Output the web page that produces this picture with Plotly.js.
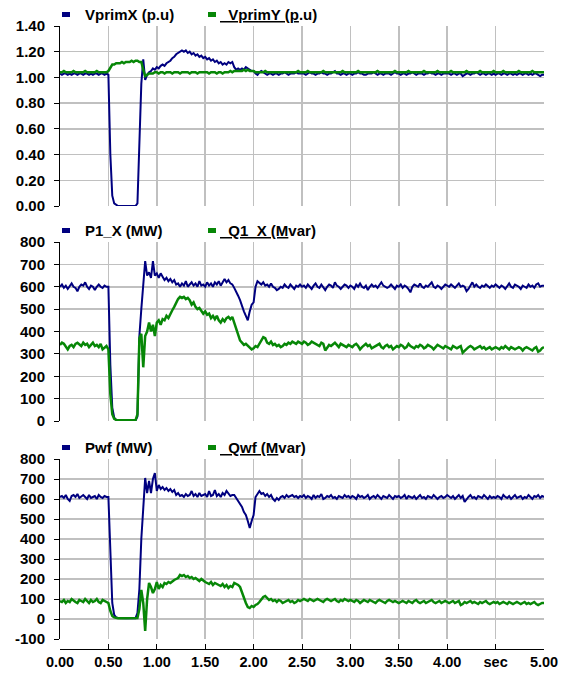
<!DOCTYPE html>
<html><head><meta charset="utf-8">
<script src="https://cdn.plot.ly/plotly-3.0.1.min.js"></script>
<style>html,body{margin:0;padding:0;background:#fff}#chart{width:565px;height:673px}</style>
</head><body><div id="chart"></div>
<script>
// sampling grid (seconds)
const T0 = 0, DT = 0.02;

// Panel 1: primary voltages (p.u)
const vprimX = [
1.03,1.02,1.03,1.03,1.02,1.03,1.02,1.03,1.03,1.02,1.03,1.03,1.02,1.03,1.03,1.02,1.03,1.02,1.03,1.03,1.02,1.03,1.03,1.02,1.03,
1.02,0.40,0.08,0.02,0.01,0.00,0.00,0.00,0.00,0.00,0.00,0.00,0.00,0.00,0.00,0.02,0.50,0.95,1.14,0.98,1.02,1.04,1.05,1.07,1.06,
1.08,1.07,1.09,1.10,1.09,1.11,1.12,1.13,1.15,1.16,1.18,1.19,1.20,1.21,1.20,1.21,1.19,1.20,1.18,1.19,1.17,1.18,1.16,1.17,1.15,
1.16,1.14,1.15,1.13,1.14,1.12,1.13,1.11,1.12,1.10,1.11,1.10,1.12,1.11,1.12,1.08,1.06,1.07,1.06,1.07,1.06,1.08,1.07,1.06,1.05,
1.05,1.03,1.02,1.04,1.05,1.04,1.03,1.02,1.03,1.03,1.02,1.03,1.03,1.02,1.03,1.03,1.04,1.03,1.02,1.03,1.03,1.03,1.04,1.03,1.03,
1.03,1.03,1.02,1.03,1.04,1.03,1.03,1.02,1.03,1.03,1.04,1.03,1.03,1.02,1.03,1.03,1.04,1.05,1.03,1.03,1.02,1.03,1.03,1.02,1.03,
1.03,1.02,1.03,1.03,1.04,1.03,1.03,1.02,1.02,1.03,1.03,1.03,1.04,1.03,1.02,1.03,1.03,1.02,1.03,1.03,1.03,1.02,1.03,1.04,1.03,
1.03,1.02,1.03,1.03,1.02,1.03,1.03,1.04,1.03,1.02,1.03,1.03,1.03,1.02,1.03,1.03,1.04,1.03,1.03,1.02,1.03,1.03,1.02,1.03,1.03,
1.03,1.03,1.02,1.03,1.03,1.02,1.03,1.03,1.01,1.02,1.03,1.03,1.02,1.03,1.03,1.04,1.03,1.02,1.03,1.03,1.02,1.03,1.03,1.02,1.03,
1.02,1.03,1.03,1.02,1.03,1.03,1.02,1.03,1.03,1.02,1.03,1.02,1.03,1.03,1.02,1.03,1.03,1.02,1.03,1.02,1.03,1.03,1.02,1.01,1.02,
1.02];
const vprimY = [
1.04,1.04,1.05,1.04,1.04,1.04,1.04,1.05,1.04,1.04,1.04,1.04,1.04,1.05,1.04,1.04,1.04,1.04,1.04,1.05,1.04,1.04,1.04,1.04,1.04,
1.05,1.08,1.10,1.10,1.11,1.11,1.11,1.12,1.11,1.12,1.12,1.12,1.13,1.12,1.13,1.13,1.12,1.12,1.06,1.01,1.02,1.03,1.03,1.03,1.04,
1.04,1.03,1.04,1.04,1.03,1.04,1.04,1.04,1.03,1.04,1.04,1.04,1.03,1.04,1.04,1.04,1.04,1.03,1.04,1.04,1.04,1.03,1.04,1.04,1.04,
1.04,1.04,1.03,1.04,1.04,1.04,1.03,1.04,1.04,1.03,1.04,1.04,1.04,1.05,1.04,1.05,1.05,1.05,1.05,1.05,1.06,1.05,1.06,1.05,1.05,
1.05,1.04,1.04,1.04,1.04,1.04,1.05,1.04,1.04,1.04,1.04,1.04,1.04,1.04,1.04,1.04,1.04,1.04,1.04,1.04,1.04,1.04,1.04,1.05,1.04,
1.04,1.04,1.04,1.05,1.04,1.04,1.04,1.04,1.04,1.04,1.04,1.05,1.04,1.04,1.04,1.04,1.04,1.04,1.04,1.04,1.04,1.05,1.04,1.04,1.04,
1.04,1.04,1.04,1.04,1.05,1.04,1.04,1.04,1.04,1.04,1.04,1.04,1.04,1.04,1.05,1.04,1.04,1.04,1.04,1.04,1.04,1.04,1.04,1.05,1.04,
1.04,1.04,1.04,1.04,1.04,1.05,1.04,1.04,1.04,1.04,1.04,1.04,1.04,1.05,1.04,1.04,1.04,1.04,1.04,1.04,1.05,1.04,1.04,1.04,1.04,
1.04,1.04,1.05,1.04,1.04,1.04,1.04,1.04,1.04,1.04,1.05,1.04,1.04,1.04,1.04,1.04,1.04,1.05,1.04,1.04,1.04,1.04,1.04,1.04,1.05,
1.04,1.04,1.04,1.04,1.05,1.04,1.04,1.04,1.04,1.04,1.04,1.04,1.05,1.04,1.04,1.04,1.04,1.04,1.04,1.05,1.04,1.04,1.04,1.04,1.04,
1.04];

// Panel 2: P1_X (MW), Q1_X (Mvar)
const p1X = [
600,610,595,605,590,600,615,600,595,580,600,610,605,620,600,590,605,600,585,600,610,600,595,605,600,
600,250,60,15,5,3,2,2,2,2,2,2,2,2,2,20,380,500,600,715,650,665,640,715,650,
660,640,660,645,630,640,625,635,620,630,610,615,600,615,605,625,600,610,620,605,615,600,625,605,610,
600,620,605,615,600,620,610,625,605,620,635,620,630,615,610,595,580,560,540,510,490,470,450,490,520,
530,600,625,615,610,620,605,610,600,615,600,595,585,590,600,595,610,600,595,610,600,590,605,600,610,
600,605,595,610,600,590,605,615,600,595,610,600,585,600,610,605,595,620,605,600,590,600,610,605,595,
605,600,590,610,600,615,600,595,605,585,600,610,600,605,595,610,620,605,600,595,600,610,600,590,605,
600,610,595,605,600,590,575,600,610,605,600,615,600,595,605,600,610,620,600,595,605,600,590,600,610,
605,600,610,600,595,605,615,600,605,600,580,590,605,620,600,610,600,595,605,600,610,600,595,605,600,
610,600,595,605,600,590,605,615,600,595,610,605,600,590,605,600,595,610,600,605,595,610,615,600,605,
605];
const q1X = [
340,350,345,330,320,335,340,330,345,350,340,335,350,340,345,330,340,350,335,340,330,345,320,330,335,
320,120,30,10,5,3,3,3,3,3,3,3,3,3,3,30,370,390,240,380,400,440,400,430,380,
440,450,430,455,450,470,460,480,495,510,530,545,555,550,555,545,550,540,520,530,510,500,505,490,480,
490,475,480,460,470,455,470,450,440,455,445,460,465,455,465,440,410,385,360,350,340,345,335,330,320,
325,335,330,345,360,375,370,350,345,355,340,345,335,340,330,335,345,340,350,345,355,350,345,355,350,
345,355,350,340,345,355,350,345,340,335,350,345,315,330,340,335,345,350,340,330,345,340,335,330,340,
335,330,340,345,335,320,330,340,345,335,340,325,330,335,340,345,330,325,335,340,330,335,320,330,335,
330,340,335,325,330,345,335,330,325,335,330,340,335,325,330,340,335,330,320,330,340,335,330,325,335,
330,325,320,335,330,325,330,335,305,315,325,330,335,330,320,325,330,335,325,330,320,325,330,320,325,
330,325,320,330,325,335,325,320,330,325,320,325,330,325,315,325,330,325,320,315,325,330,310,315,325,
330];

// Panel 3: Pwf (MW), Qwf (Mvar)
const pwf = [
610,615,605,620,600,590,615,620,610,625,605,615,620,610,600,620,605,610,615,600,620,610,605,615,610,
610,300,80,20,8,5,4,4,4,4,4,4,4,4,4,30,150,400,560,705,630,690,630,700,730,
640,670,650,660,645,655,640,650,635,645,620,630,615,620,610,625,615,620,640,615,625,610,630,615,620,
625,610,640,615,620,645,615,625,610,630,620,640,625,615,620,620,605,590,575,560,535,520,490,455,490,
520,610,625,640,625,630,615,625,610,620,600,590,605,595,610,615,605,620,610,615,620,610,615,605,615,
610,620,605,615,610,600,620,605,615,610,625,600,605,615,610,620,605,610,600,615,610,605,620,610,615,
605,615,610,600,620,610,615,605,610,620,600,610,615,605,620,610,600,615,610,605,620,610,600,615,610,
615,605,610,620,600,615,610,605,615,600,610,620,605,610,600,615,610,605,620,610,600,610,615,605,610,
620,610,605,615,600,610,620,605,615,585,600,610,620,605,610,600,615,610,605,620,610,600,615,605,610,
605,615,610,600,620,610,605,615,600,610,620,605,610,615,600,610,605,620,610,600,615,610,620,605,615,
610];
const qwf = [
90,85,95,80,90,85,100,90,85,80,95,90,85,100,90,80,95,85,90,100,85,80,95,90,85,
80,40,15,8,5,4,4,4,4,4,4,4,4,4,4,5,50,145,80,-60,100,180,160,130,150,
185,150,170,160,180,175,185,180,190,195,200,205,220,215,220,210,215,205,210,200,205,195,190,200,190,
185,180,175,185,170,180,175,170,165,175,160,170,155,165,160,180,175,170,160,130,100,80,60,55,65,
60,70,75,85,100,110,115,105,95,100,90,95,85,95,90,80,85,90,95,85,90,80,85,95,90,
95,100,95,90,100,95,90,95,100,95,90,85,95,100,95,90,95,100,90,85,95,90,100,95,90,
95,90,85,95,90,80,90,95,90,85,95,90,85,80,90,95,90,85,80,90,95,90,85,90,85,
80,85,90,85,80,90,85,80,90,95,85,80,85,90,80,85,90,95,85,80,85,90,80,85,90,
85,80,85,90,80,85,90,70,75,85,80,85,90,80,85,80,75,85,80,85,90,80,75,80,85,
80,85,75,80,85,80,75,85,80,75,80,85,80,75,80,85,75,80,75,80,85,75,70,75,80,
80];

// ticks
const xTickVals = [0,0.5,1,1.5,2,2.5,3,3.5,4,4.5,5];
const xTickText = ['0.00','0.50','1.00','1.50','2.00','2.50','3.00','3.50','4.00','sec','5.00'];
const vTickVals = [0,0.2,0.4,0.6,0.8,1.0,1.2,1.4];
const vTickText = ['0.00','0.20','0.40','0.60','0.80','1.00','1.20','1.40'];
const p2TickVals = [0,100,200,300,400,500,600,700,800];
const p3TickVals = [-100,0,100,200,300,400,500,600,700,800];

// legend labels
const legendNavy = ['VprimX (p.u)', 'P1_X (MW)', 'Pwf (MW)'];
const legendGreen = ['<u>\u00a0\u00a0VprimY (p</u>.u)', '<u>\u00a0\u00a0Q1_X (M</u>var)', '<u>\u00a0\u00a0Qwf (M</u>var)'];

const NAVY = '#000080', GREEN = '#078707';
const W = 565, H = 673, L = 60, R = 21, TOP = 26, B = 24;
const plotW = W - L - R, plotH = H - TOP - B;
const py = p => (H - B - p) / plotH;
const px = p => (p - L) / plotW;
const FONT = {family: 'Liberation Sans, Arial, sans-serif', size: 15, color: '#000', weight: 'bold'};
const XFONT = {family: 'Liberation Sans, Arial, sans-serif', size: 14.5, color: '#000', weight: 'bold'};

function tr(y, col, xa, ya, w) {
  return {type: 'scatter', mode: 'lines', x0: T0, dx: DT, y: y, xaxis: xa, yaxis: ya,
          line: {color: col, width: w}, hoverinfo: 'skip', showlegend: false};
}
const data = [
  tr(vprimX, NAVY, 'x', 'y', 2), tr(vprimY, GREEN, 'x', 'y', 2.5),
  tr(p1X, NAVY, 'x2', 'y2', 2), tr(q1X, GREEN, 'x2', 'y2', 2.5),
  tr(pwf, NAVY, 'x3', 'y3', 2), tr(qwf, GREEN, 'x3', 'y3', 2.5)
];

const GRID = '#c0c0c0';
function yAx(dom, range, vals, text) {
  return {domain: dom, range: range, tickmode: 'array', tickvals: vals, ticktext: text,
    showline: true, linecolor: '#000', linewidth: 1, ticks: 'outside', ticklen: 5, tickcolor: '#000',
    showgrid: true, gridcolor: GRID, gridwidth: 1.5, zeroline: false, tickfont: FONT,
    ticklabelstandoff: 6, fixedrange: true};
}
function xAxTop(anchor) {
  return {anchor: anchor, range: [0, 5], tickmode: 'array', tickvals: xTickVals, showticklabels: false,
    ticks: '', showline: false, showgrid: true, gridcolor: GRID, gridwidth: 1.5, zeroline: false, fixedrange: true};
}

const panelsY = [[26, 206], [242, 421], [459, 639]];
const legendY = [14.5, 230.5, 447.5];
const shapes = [], annotations = [];
for (let i = 0; i < 3; i++) {
  const ly = legendY[i];
  shapes.push({type: 'rect', xref: 'paper', yref: 'paper', x0: px(62), x1: px(70), y0: py(ly + 2.5), y1: py(ly - 2.5),
               fillcolor: NAVY, line: {width: 0}});
  shapes.push({type: 'rect', xref: 'paper', yref: 'paper', x0: px(208), x1: px(216), y0: py(ly + 2.5), y1: py(ly - 2.5),
               fillcolor: GREEN, line: {width: 0}});
  annotations.push({xref: 'paper', yref: 'paper', x: px(84), y: py(ly), xanchor: 'left', yanchor: 'middle',
                    text: legendNavy[i], showarrow: false, font: FONT, borderpad: 0});
  annotations.push({xref: 'paper', yref: 'paper', x: px(219), y: py(ly), xanchor: 'left', yanchor: 'middle',
                    text: legendGreen[i], showarrow: false, font: FONT, borderpad: 0});
}

const layout = {
  width: W, height: H, margin: {l: L, r: R, t: TOP, b: B, pad: 0},
  paper_bgcolor: '#fff', plot_bgcolor: '#fff', showlegend: false, font: FONT,
  xaxis: xAxTop('y'),
  xaxis2: xAxTop('y2'),
  xaxis3: {anchor: 'free', position: 0, range: [0, 5], tickmode: 'array', tickvals: xTickVals, ticktext: xTickText,
    showline: true, linecolor: '#000', linewidth: 1, ticks: 'inside', ticklen: 5, tickcolor: '#000',
    showgrid: true, gridcolor: GRID, gridwidth: 1.5, zeroline: false, tickfont: XFONT, ticklabelstandoff: 0, fixedrange: true},
  yaxis: yAx([py(panelsY[0][1]), py(panelsY[0][0])], [0, 1.4], vTickVals, vTickText),
  yaxis2: yAx([py(panelsY[1][1]), py(panelsY[1][0])], [0, 800], p2TickVals, p2TickVals.map(String)),
  yaxis3: yAx([py(panelsY[2][1]), py(panelsY[2][0])], [-100, 800], p3TickVals, p3TickVals.map(String)),
  shapes: shapes, annotations: annotations
};

Plotly.newPlot('chart', data, layout, {staticPlot: true, displayModeBar: false});
</script>
</body></html>
